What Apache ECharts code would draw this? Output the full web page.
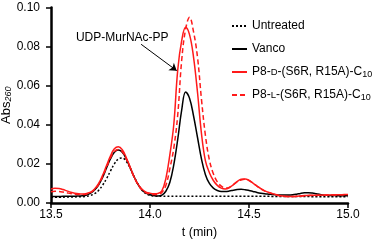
<!DOCTYPE html>
<html><head><meta charset="utf-8">
<script src="https://cdn.jsdelivr.net/npm/echarts@6/dist/echarts.min.js"></script>
<style>html,body{margin:0;padding:0;background:#fff}#c{width:375px;height:241px}</style>
</head><body><div id="c"></div>
<script>
const times = [13.50,13.52,13.54,13.56,13.58,13.60,13.62,13.64,13.66,13.68,13.70,13.72,13.74,13.76,13.78,13.80,13.82,13.84,13.86,13.88,13.90,13.92,13.94,13.96,13.98,
14.00,14.02,14.04,14.06,14.08,14.10,14.12,14.14,14.16,14.18,14.20,14.22,14.24,14.26,14.28,14.30,14.32,14.34,14.36,14.38,14.40,14.42,14.44,14.46,14.48,
14.50,14.52,14.54,14.56,14.58,14.60,14.62,14.64,14.66,14.68,14.70,14.72,14.74,14.76,14.78,14.80,14.82,14.84,14.86,14.88,14.90,14.92,14.94,14.96,14.98,15.00];

const untreated = [0.0030,0.0030,0.0030,0.0030,0.0031,0.0031,0.0031,0.0032,0.0032,
0.0034,0.0039,0.0048,0.0064,0.0090,0.0124,0.0163,0.0200,0.0225,0.0230,0.0213,0.0178,0.0135,0.0095,0.0065,0.0047,0.0039,0.0036,
0.0035,0.0035,0.0035,0.0035,0.0035,0.0035,0.0035,0.0035,0.0035,0.0035,0.0035,0.0035,0.0035,0.0035,0.0035,0.0035,0.0035,0.0035,0.0035,
0.0034,0.0034,0.0034,0.0034,0.0034,0.0034,0.0034,0.0034,0.0034,0.0034,
0.0033,0.0033,0.0033,0.0033,0.0033,0.0033,0.0033,0.0033,0.0033,0.0033,
0.0032,0.0032,0.0032,0.0032,0.0032,0.0032,0.0032,0.0032,0.0032,0.0032];

const vanco = [0.0033,0.0033,0.0033,0.0034,0.0034,0.0035,0.0035,0.0036,0.0037,0.0041,0.0050,0.0066,0.0092,0.0130,0.0178,0.0225,0.0260,0.0271,0.0260,0.0226,0.0180,0.0133,0.0094,0.0066,0.0050,
0.0042,0.0038,0.0036,0.0040,0.0060,0.0105,0.0195,0.0325,0.0475,0.0568,0.0535,0.0445,0.0335,0.0225,0.0145,0.0100,0.0076,0.0064,0.0059,0.0059,0.0061,0.0065,0.0069,0.0070,0.0068,
0.0064,0.0059,0.0054,0.0050,0.0047,0.0045,0.0043,0.0042,0.0041,0.0041,0.0041,0.0042,0.0045,0.0049,0.0052,0.0053,0.0051,0.0047,0.0043,0.0040,0.0039,0.0038,0.0038,0.0037,0.0037,0.0037];

const p8D = [0.0072,0.0075,0.0074,0.0069,0.0062,0.0055,0.0050,0.0047,0.0046,0.0049,0.0056,0.0072,0.0099,0.0140,0.0190,0.0240,0.0277,0.0288,0.0273,0.0233,0.0183,0.0133,0.0095,0.0070,0.0056,
0.0050,0.0047,0.0049,0.0062,0.0125,0.0245,0.0400,0.0680,0.0830,0.0899,0.0860,0.0745,0.0565,0.0355,0.0215,0.0155,0.0115,0.0090,0.0076,0.0072,0.0078,0.0093,0.0110,0.0121,0.0123,
0.0116,0.0102,0.0087,0.0073,0.0062,0.0054,0.0048,0.0042,0.0037,0.0034,0.0033,0.0033,0.0034,0.0036,0.0038,0.0039,0.0040,0.0040,0.0040,0.0041,0.0041,0.0042,0.0042,0.0042,0.0043,0.0043];

const p8L = [0.0058,0.0060,0.0059,0.0056,0.0052,0.0048,0.0045,0.0043,0.0043,0.0046,0.0053,0.0068,0.0094,0.0133,0.0181,0.0229,0.0264,0.0274,0.0262,0.0226,0.0179,0.0131,0.0093,0.0067,0.0052,
0.0046,0.0043,0.0044,0.0054,0.0090,0.0175,0.0280,0.0450,0.0730,0.0890,0.0950,0.0875,0.0745,0.0530,0.0345,0.0220,0.0150,0.0108,0.0086,0.0077,0.0080,0.0093,0.0108,0.0118,0.0121,
0.0115,0.0101,0.0086,0.0072,0.0061,0.0053,0.0047,0.0041,0.0036,0.0034,0.0033,0.0033,0.0034,0.0035,0.0037,0.0038,0.0039,0.0039,0.0040,0.0040,0.0041,0.0041,0.0041,0.0042,0.0042,0.0042];

const seriesNames = ['Untreated', 'Vanco', 'P8-D-(S6R, R15A)-C10', 'P8-L-(S6R, R15A)-C10'];
const legendLabels = ['Untreated', 'Vanco', 'P8-{sc|D}-(S6R, R15A)-C{sub|10}', 'P8-{sc|L}-(S6R, R15A)-C{sub|10}'];
const xTicks = [13.5, 14.0, 14.5, 15.0];
const annotationText = 'UDP-MurNAc-PP';
const labelAt = [13.86, 0.0844];
const arrowFrom = [13.955, 0.0812];
const arrowTo = [14.135, 0.0677];

const FONT = "'Liberation Sans', Arial, sans-serif";
const pairs = arr => times.map((t, i) => [t, arr[i]]);

const chart = echarts.init(document.getElementById('c'), null, {renderer: 'canvas'});
const RED = '#ff1a1a';
chart.setOption({
  animation: false,
  backgroundColor: '#fff',
  textStyle: {fontFamily: FONT},
  grid: {left: 51, right: 27, top: 7.5, bottom: 38, containLabel: false, outerBoundsMode: 'none'},
  legend: {
    orient: 'vertical', left: 226, top: 14, itemWidth: 15, itemHeight: 14, itemGap: 9,
    data: seriesNames,
    itemStyle: {color: 'rgba(0,0,0,0)', borderWidth: 0, opacity: 0},
    formatter: name => legendLabels[seriesNames.indexOf(name)],
    textStyle: {fontFamily: FONT, fontSize: 12, color: '#000', lineHeight: 14,
      rich: {
        sc: {fontFamily: FONT, fontSize: 9.5, lineHeight: 14, color: '#000', padding: [1, 0, 0, 0]},
        sub: {fontFamily: FONT, fontSize: 9, lineHeight: 8, verticalAlign: 'bottom', color: '#000'}
      }}
  },
  xAxis: {
    type: 'value', min: 13.5, max: 15.0, interval: 0.5,
    name: 't (min)', nameLocation: 'middle', nameGap: 23, nameMoveOverlap: false,
    nameTextStyle: {fontFamily: FONT, fontSize: 12.5, color: '#000'},
    axisLine: {lineStyle: {color: '#000', width: 2.5}},
    axisTick: {length: 5, lineStyle: {color: '#000', width: 1.5}},
    axisLabel: {margin: 6, fontSize: 12, color: '#000', fontFamily: FONT,
      formatter: v => xTicks.includes(+v.toFixed(1)) ? v.toFixed(1) : ''},
    splitLine: {show: false}
  },
  yAxis: {
    type: 'value', min: 0, max: 0.1, interval: 0.02,
    name: 'Abs{sub|260}', nameLocation: 'middle', nameGap: 38, nameMoveOverlap: false,
    nameTextStyle: {fontFamily: FONT, fontSize: 13, color: '#000',
      rich: {sub: {fontFamily: FONT, fontSize: 9, fontStyle: 'italic', lineHeight: 8, verticalAlign: 'bottom', color: '#000'}}},
    axisLine: {show: true, lineStyle: {color: '#000', width: 2.5}},
    axisTick: {show: true, length: 5, lineStyle: {color: '#000', width: 1.5}},
    axisLabel: {margin: 11, fontSize: 12, color: '#000', fontFamily: FONT, formatter: v => v.toFixed(2)},
    splitLine: {show: false}
  },
  series: [
    {name: seriesNames[0], type: 'line', data: pairs(untreated), symbol: 'none', smooth: 0.4,
      lineStyle: {color: '#000', width: 1.5, type: [2, 2]}, itemStyle: {color: '#000'}},
    {name: seriesNames[1], type: 'line', data: pairs(vanco), symbol: 'none', smooth: 0.4,
      lineStyle: {color: '#000', width: 1.5}, itemStyle: {color: '#000'}},
    {name: seriesNames[2], type: 'line', data: pairs(p8D), symbol: 'none', smooth: 0.4,
      lineStyle: {color: RED, width: 1.5}, itemStyle: {color: RED}},
    {name: seriesNames[3], type: 'line', data: pairs(p8L), symbol: 'none', smooth: 0.4,
      lineStyle: {color: RED, width: 1.5, type: [5, 3]}, itemStyle: {color: RED},
      markLine: {silent: true, symbol: ['none', 'arrow'], symbolSize: 7,
        lineStyle: {color: '#000', width: 1, type: 'solid'}, label: {show: false},
        data: [[{coord: arrowFrom}, {coord: arrowTo}]]}}
  ]
});
const p = chart.convertToPixel({gridIndex: 0}, labelAt);
chart.setOption({graphic: [{type: 'text', x: p[0], y: p[1], silent: true,
  style: {text: annotationText, fontFamily: FONT, fontSize: 12, fill: '#000', align: 'center', verticalAlign: 'middle'}}]});
</script>
</body></html>
